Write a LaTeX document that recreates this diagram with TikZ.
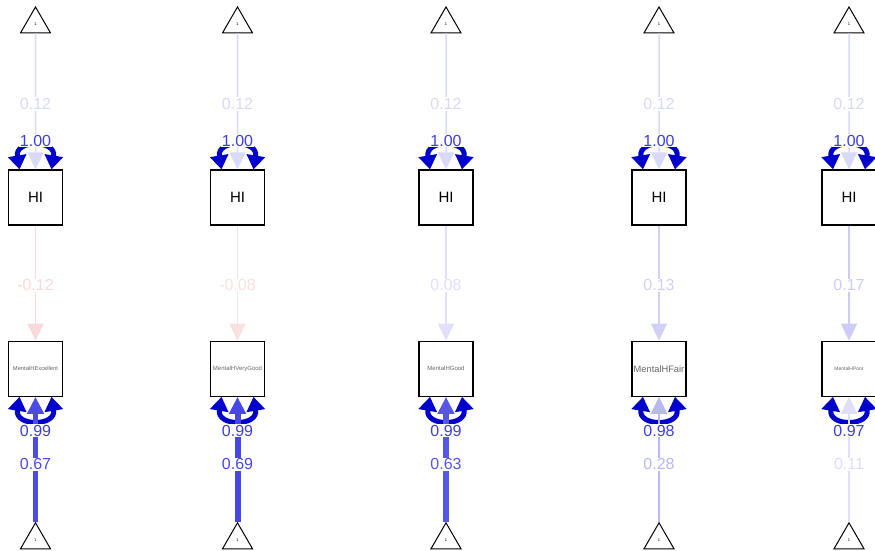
\documentclass[tikz,border=0pt]{standalone}
\usepackage{fontspec}
\setmainfont{Liberation Sans}
\usetikzlibrary{arrows.meta,positioning,shapes.geometric}

\definecolor{posBlue}{rgb}{0,0,0.85}
\definecolor{negRed}{rgb}{0.85,0,0}
\definecolor{loopBlue}{rgb}{0,0,0.8}
\definecolor{loopText}{rgb}{0.24,0.24,0.9}

\tikzset{
     manNode/.style =
        { rectangle
        , draw
        , line width=1.2pt
        , minimum width=54pt
        , minimum height=55pt
        , inner sep=0pt
        },
     intNode/.style =
        { regular polygon
        , regular polygon sides=3
        , draw
        , line width=1pt
        , minimum size=34.6pt
        , inner sep=0pt
        , font=\fontsize{4}{4}\selectfont
        },
     varLoop/.style =
        { draw=loopBlue
        , line width=5pt
        , {Triangle[length=14pt,width=18pt]}-{Triangle[length=14pt,width=18pt]}
        },
     pathEdge/.style 2 args =
        { draw=#1
        , text=#1
        , line width=#2
        , -{Triangle[length=17pt,width=16pt]}
        },
     pathLabel/.style =
        { fill=white
        , inner sep=1pt
        , font=\fontsize{16}{16}\selectfont
        },
     loopLabel/.style =
        { pathLabel
        , text=loopText
        }
}

\begin{document}
\begin{tikzpicture}
            [ x=1pt
            , y=-1pt
            , node distance=115pt
            ]
            \useasboundingbox (0,0) rectangle (875,550);

            % latent intercept and indicator boxes, one column each
            \node[manNode] (hiA) at (35.5,197.5) {\fontsize{15}{15}\selectfont HI};
            \node[manNode] (hiB) at (237.5,197.5) {\fontsize{15}{15}\selectfont HI};
            \node[manNode] (hiC) at (446,197.5) {\fontsize{15}{15}\selectfont HI};
            \node[manNode] (hiD) at (659,197.5) {\fontsize{15}{15}\selectfont HI};
            \node[manNode] (hiE) at (849,197.5) {\fontsize{15}{15}\selectfont HI};

            \node[manNode, text=black!60] (lowA) [below=of hiA] {\fontsize{5.8}{6}\selectfont MentalHExcellent};
            \node[manNode, text=black!60] (lowB) [below=of hiB] {\fontsize{6}{6}\selectfont MentalHVeryGood};
            \node[manNode, text=black!60] (lowC) [below=of hiC] {\fontsize{6}{6}\selectfont MentalHGood};
            \node[manNode, text=black!60] (lowD) [below=of hiD] {\fontsize{9.3}{9}\selectfont MentalHFair};
            \node[manNode, text=black!60] (lowE) [below=of hiE] {\fontsize{5}{5}\selectfont MentalHPoor};

            \node[intNode] (topA) [above=136pt of hiA] {1};
            \node[intNode] (topB) [above=136pt of hiB] {1};
            \node[intNode] (topC) [above=136pt of hiC] {1};
            \node[intNode] (topD) [above=136pt of hiD] {1};
            \node[intNode] (topE) [above=136pt of hiE] {1};

            \node[intNode] (botA) [below=125pt of lowA] {1};
            \node[intNode] (botB) [below=125pt of lowB] {1};
            \node[intNode] (botC) [below=125pt of lowC] {1};
            \node[intNode] (botD) [below=125pt of lowD] {1};
            \node[intNode] (botE) [below=125pt of lowE] {1};

            % variances
            \foreach \n in {A,B,C,D,E}
            {
                \draw[varLoop] ([xshift=-16pt]hi\n.north) .. controls +(-5pt,30pt) and +(5pt,30pt) .. ([xshift=16pt]hi\n.north);
                \draw[varLoop] ([xshift=-16pt]low\n.south) .. controls +(-5pt,-30pt) and +(5pt,-30pt) .. ([xshift=16pt]low\n.south);
            }

            \path[every node/.style={pos=0.52}]
            (topA) edge [pathEdge={posBlue!15!white}{1.5pt}] node[pathLabel] {0.12} (hiA)
            (topB) edge [pathEdge={posBlue!15!white}{1.5pt}] node[pathLabel] {0.12} (hiB)
            (topC) edge [pathEdge={posBlue!15!white}{1.5pt}] node[pathLabel] {0.12} (hiC)
            (topD) edge [pathEdge={posBlue!15!white}{1.5pt}] node[pathLabel] {0.12} (hiD)
            (topE) edge [pathEdge={posBlue!15!white}{1.5pt}] node[pathLabel] {0.12} (hiE)

            (hiA) edge [pathEdge={negRed!15!white}{1.5pt}] node[pathLabel] {-0.12} (lowA)
            (hiB) edge [pathEdge={negRed!12!white}{1.2pt}] node[pathLabel] {-0.08} (lowB)
            (hiC) edge [pathEdge={posBlue!12!white}{1.2pt}] node[pathLabel] {0.08} (lowC)
            (hiD) edge [pathEdge={posBlue!18!white}{1.5pt}] node[pathLabel] {0.13} (lowD)
            (hiE) edge [pathEdge={posBlue!20!white}{1.8pt}] node[pathLabel] {0.17} (lowE)

            (botA) edge [pathEdge={posBlue!70!white}{5.9pt}] node[pathLabel, pos=0.46] {0.67} (lowA)
            (botB) edge [pathEdge={posBlue!72!white}{6pt}] node[pathLabel, pos=0.46] {0.69} (lowB)
            (botC) edge [pathEdge={posBlue!66!white}{5.5pt}] node[pathLabel, pos=0.46] {0.63} (lowC)
            (botD) edge [pathEdge={posBlue!28!white}{2.6pt}] node[pathLabel, pos=0.46] {0.28} (lowD)
            (botE) edge [pathEdge={posBlue!13!white}{1.4pt}] node[pathLabel, pos=0.46] {0.11} (lowE)
            ;

            \node[loopLabel] (varHiA) [above=22pt of hiA] {1.00};
            \node[loopLabel] (varHiB) [above=22pt of hiB] {1.00};
            \node[loopLabel] (varHiC) [above=22pt of hiC] {1.00};
            \node[loopLabel] (varHiD) [above=22pt of hiD] {1.00};
            \node[loopLabel] (varHiE) [above=22pt of hiE] {1.00};

            \node[loopLabel] (varLowA) [below=27pt of lowA] {0.99};
            \node[loopLabel] (varLowB) [below=27pt of lowB] {0.99};
            \node[loopLabel] (varLowC) [below=27pt of lowC] {0.99};
            \node[loopLabel] (varLowD) [below=27pt of lowD] {0.98};
            \node[loopLabel] (varLowE) [below=27pt of lowE] {0.97};
\end{tikzpicture}
\end{document}
